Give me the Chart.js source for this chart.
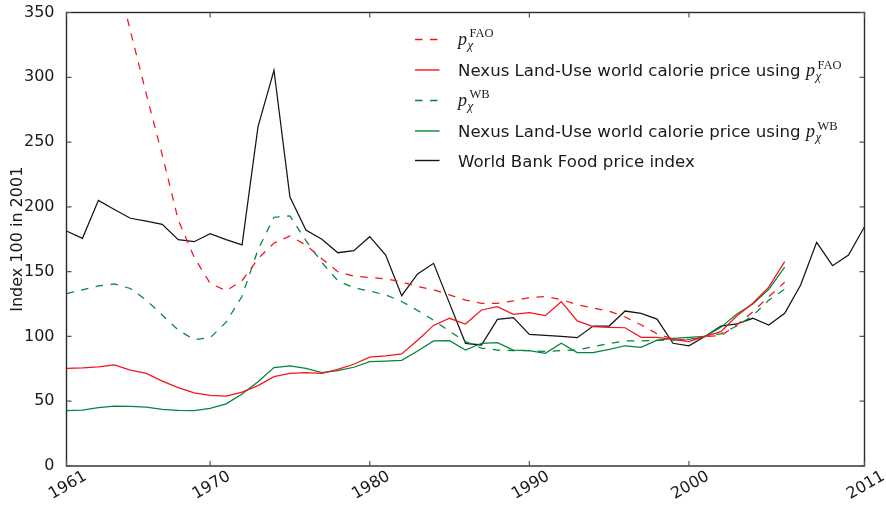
<!DOCTYPE html>
<html>
<head>
<meta charset="utf-8">
<script src="https://cdn.jsdelivr.net/npm/chart.js@4.4.1/dist/chart.umd.min.js"></script>
<style>
html,body{margin:0;padding:0;background:#fff;}
#wrap{width:886px;height:507px;position:relative;}
</style>
</head>
<body>
<div id="wrap"><canvas id="c" width="886" height="507"></canvas></div>
<script>
// ---- data ----
const years = [1961,1962,1963,1964,1965,1966,1967,1968,1969,1970,
  1971,1972,1973,1974,1975,1976,1977,1978,1979,1980,
  1981,1982,1983,1984,1985,1986,1987,1988,1989,1990,
  1991,1992,1993,1994,1995,1996,1997,1998,1999,2000,
  2001,2002,2003,2004,2005,2006,2007,2008,2009,2010,2011];
const xTickYears = [1961,1970,1980,1990,2000,2011];
const yTickValues = [0,50,100,150,200,250,300,350];
const seriesNames = [
  'pχ FAO',
  'Nexus Land-Use world calorie price using pχ FAO',
  'pχ WB',
  'Nexus Land-Use world calorie price using pχ WB',
  'World Bank Food price index'
];
const yAxisTitle = 'Index 100 in 2001';

// 1961..2006
const pFAO = [560,500,440,385,336,287,240,190,161,141,
  135.3,143,160,172,177.5,170.6,160,150,146.6,145.5,
  144.5,142,138.5,136,132,128,125.6,125.6,127.5,130,
  130.7,128.5,124.5,122,119.5,115,109,102,98,97,
  100,100.5,108.8,119,130.7,141.8];
const nexusFAO = [75.4,75.8,76.5,78,74,71.5,65.5,60.5,56.5,54.5,
  54,57,62,69,71.5,72,71.5,74.6,78.5,84,
  85,86.5,97,108.5,114,109.6,120.4,123,117,118.3,
  116,126.8,112,107.5,107,106.7,99.3,99.3,97.8,96,
  100,103.7,115.8,125.6,138,157.7];
const pWB = [133,136,139,140.5,137,128,116.5,105,97.5,99,
  111,131,167,192,193,174,157,143,137.5,135,
  132,127,120,112.5,104,96,91,89.5,89,89,
  88.5,89,89.5,92,94.5,96.5,96.5,97,97.2,97.8,
  100,102,108,116,128,136.5];
const nexusWB = [42.7,43.2,45,46.3,46,45.5,43.7,43,42.7,44.5,
  48,55.5,65,76,77.2,75.4,72,73.6,76.2,80.5,
  81,81.5,88.8,96.5,96.7,89.5,94.7,95.2,89.5,89,
  87,94.7,87.5,87.5,90,92.8,91.6,97.2,98.5,99.3,
  100,107,117.3,125,136.4,153.4];
// 1961..2011
const wbFoodIndex = [181.4,175.7,205,198,191.2,189,186.5,174.7,173.1,179.3,
  174.7,170.6,261.9,305.4,207.6,182.1,175,164.6,166.2,177,
  162.8,131.4,148.2,156.4,125.5,94.7,93.4,113.2,114.5,101.6,
  100.8,100,99,108,108,119.6,117.8,113.4,94.7,92.8,
  100,108,109.6,114,108.8,117.8,139.7,172.6,154.6,162.8,184.7];

const RED = '#f5141c';
const GREEN = '#00843e';
const BLACK = '#141414';
const DASH = [7.5, 7.5];
const FONT = '"DejaVu Sans", "Liberation Sans", sans-serif';

function pts(arr){ return arr.map((v,i)=>({x:years[i], y:v})); }

const datasets = [
  {label: seriesNames[0], data: pts(pFAO), borderColor: RED, borderDash: DASH},
  {label: seriesNames[1], data: pts(nexusFAO), borderColor: RED},
  {label: seriesNames[2], data: pts(pWB), borderColor: GREEN, borderDash: DASH},
  {label: seriesNames[3], data: pts(nexusWB), borderColor: GREEN},
  {label: seriesNames[4], data: pts(wbFoodIndex), borderColor: BLACK}
].map(d => Object.assign({borderWidth: 1.25, pointRadius: 0, tension: 0, fill: false}, d));

// frame + inward ticks
const framePlugin = {
  id: 'frame',
  afterDatasetsDraw(chart){
    const {ctx, chartArea: a, scales} = chart;
    ctx.save();
    ctx.strokeStyle = '#2a2a2a';
    ctx.lineWidth = 1.4;
    ctx.strokeRect(a.left, a.top, a.right - a.left, a.bottom - a.top);
    ctx.strokeStyle = '#555';
    ctx.lineWidth = 1.2;
    const L = 5;
    ctx.beginPath();
    scales.x.ticks.forEach(t => {
      const px = scales.x.getPixelForValue(t.value);
      ctx.moveTo(px, a.bottom); ctx.lineTo(px, a.bottom - L);
      ctx.moveTo(px, a.top); ctx.lineTo(px, a.top + L);
    });
    scales.y.ticks.forEach(t => {
      const py = scales.y.getPixelForValue(t.value);
      ctx.moveTo(a.left, py); ctx.lineTo(a.left + L, py);
      ctx.moveTo(a.right, py); ctx.lineTo(a.right - L, py);
    });
    ctx.stroke();
    ctx.restore();
  }
};

// legend with math labels
const legendPlugin = {
  id: 'mathLegend',
  afterDraw(chart){
    const ctx = chart.ctx;
    const rowY = [39.5, 70, 100.5, 131, 160.5];
    ctx.save();
    ctx.fillStyle = '#1a1a1a';
    ctx.textBaseline = 'alphabetic';
    chart.data.datasets.forEach((ds, i) => {
      const y = rowY[i];
      ctx.save();
      ctx.strokeStyle = ds.borderColor;
      ctx.lineWidth = 1.4;
      ctx.setLineDash(ds.borderDash || []);
      ctx.beginPath(); ctx.moveTo(415, y); ctx.lineTo(439.5, y); ctx.stroke();
      ctx.restore();
      const name = ds.label;
      const k = name.indexOf('pχ ');
      let x = 458;
      let base;
      if (k < 0) {
        ctx.font = '16.6px ' + FONT;
        ctx.fillText(name, x, y + 6);
        return;
      }
      const prefix = name.slice(0, k);
      const sup = name.slice(k + 3);
      if (prefix) {
        ctx.font = '16.6px ' + FONT;
        ctx.fillText(prefix, x, y + 6);
        x += ctx.measureText(prefix).width;
        base = y + 6;
      } else {
        base = y + 5;
      }
      ctx.font = 'italic 18px "Liberation Serif", serif';
      ctx.fillText('p', x, base);
      x += ctx.measureText('p').width + 0.5;
      ctx.font = 'italic 13px "Liberation Serif", serif';
      ctx.fillText('χ', x, base + 4);
      ctx.font = '12.5px "Liberation Serif", serif';
      ctx.fillText(sup, x + 2, base - 7.5);
    });
    ctx.restore();
  }
};

new Chart(document.getElementById('c'), {
  type: 'line',
  data: {datasets},
  plugins: [framePlugin, legendPlugin],
  options: {
    responsive: false,
    animation: false,
    devicePixelRatio: 1,
    layout: {padding: {left: 0, top: 12.5, right: 21.5, bottom: 0}},
    plugins: {legend: {display: false}, tooltip: {enabled: false}},
    scales: {
      x: {
        type: 'linear', min: 1961, max: 2011,
        grid: {display: false}, border: {display: false},
        afterBuildTicks: s => { s.ticks = xTickYears.map(v => ({value: v})); },
        afterFit: s => { s.height = 41; s.paddingLeft = 0; s.paddingRight = 0; },
        ticks: {
          autoSkip: false, minRotation: 30, maxRotation: 30,
          labelOffset: 19, padding: -7,
          color: '#1a1a1a', font: {family: FONT, size: 16},
          callback: v => String(v)
        }
      },
      y: {
        min: 0, max: 350,
        grid: {display: false}, border: {display: false},
        afterBuildTicks: s => { s.ticks = yTickValues.map(v => ({value: v})); },
        afterFit: s => { s.width = 66.5; s.paddingTop = 0; s.paddingBottom = 0; },
        ticks: {padding: 4, color: '#1a1a1a', font: {family: FONT, size: 16}, callback: v => String(v)},
        title: {display: true, text: yAxisTitle, color: '#1a1a1a', font: {family: FONT, size: 16}, padding: {top: 8, bottom: 0}}
      }
    }
  }
});
</script>
</body>
</html>
